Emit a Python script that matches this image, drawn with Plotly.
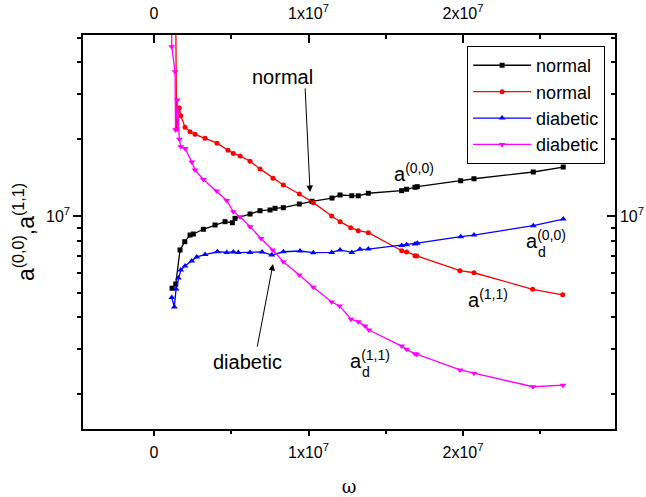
import math
import plotly.graph_objects as go

# omega values (rad/s) and coefficients for each curve
omega_n00 = [1.165e6, 1.404e6, 1.683e6, 1.987e6, 2.330e6, 2.543e6, 3.191e6, 3.948e6, 4.595e6, 5.068e6,
             5.242e6, 6.213e6, 6.860e6, 7.508e6, 7.831e6, 8.368e6, 9.404e6, 1.0226e7, 1.152e7, 1.204e7,
             1.280e7, 1.322e7, 1.387e7, 1.603e7, 1.635e7, 1.689e7, 1.704e7, 1.985e7, 2.071e7, 2.455e7, 2.649e7]
a_n00 = [5.21e6, 5.41e6, 7.36e6, 7.93e6, 8.42e6, 8.50e6, 8.87e6, 9.22e6, 9.50e6, 9.41e6,
         9.79e6, 1.018e7, 1.049e7, 1.056e7, 1.072e7, 1.078e7, 1.114e7, 1.142e7, 1.176e7, 1.209e7,
         1.201e7, 1.200e7, 1.228e7, 1.257e7, 1.273e7, 1.296e7, 1.303e7, 1.375e7, 1.400e7, 1.488e7, 1.556e7]

omega_n11 = [1.391e6, 1.456e6, 1.637e6, 1.728e6, 2.006e6, 2.330e6, 2.654e6, 3.301e6, 4.077e6, 4.789e6,
             5.132e6, 5.566e6, 6.213e6, 6.860e6, 7.702e6, 8.368e6, 9.404e6, 1.031e7, 1.150e7, 1.204e7,
             1.273e7, 1.322e7, 1.387e7, 1.603e7, 1.635e7, 1.689e7, 1.700e7, 1.980e7, 2.071e7, 2.451e7, 2.645e7]
a_n11 = [8.0e7, 2.19e7, 2.65e7, 2.47e7, 2.23e7, 2.14e7, 2.09e7, 2.02e7, 1.93e7, 1.81e7,
         1.76e7, 1.72e7, 1.64e7, 1.53e7, 1.405e7, 1.323e7, 1.220e7, 1.128e7, 1.000e7, 9.50e6,
         9.00e6, 8.76e6, 8.60e6, 7.31e6, 7.23e6, 6.99e6, 6.97e6, 6.10e6, 5.99e6, 5.16e6, 4.91e6]

omega_d00 = [1.146e6, 1.314e6, 1.424e6, 1.573e6, 1.728e6, 2.006e6, 2.440e6, 2.764e6, 3.301e6, 4.097e6,
             4.705e6, 5.132e6, 5.456e6, 6.213e6, 6.990e6, 7.618e6, 8.368e6, 9.449e6, 1.031e7, 1.150e7,
             1.204e7, 1.280e7, 1.333e7, 1.387e7, 1.603e7, 1.635e7, 1.689e7, 1.704e7, 1.985e7, 2.071e7,
             2.455e7, 2.649e7]
a_d00 = [4.79e6, 4.40e6, 5.17e6, 5.71e6, 6.14e6, 6.37e6, 6.66e6, 6.91e6, 7.06e6, 7.24e6,
         7.20e6, 7.23e6, 7.19e6, 7.20e6, 7.23e6, 7.03e6, 7.24e6, 7.29e6, 7.18e6, 7.20e6,
         7.36e6, 7.20e6, 7.40e6, 7.42e6, 7.66e6, 7.72e6, 7.77e6, 7.82e6, 8.30e6, 8.42e6,
         9.16e6, 9.73e6]

omega_d11 = [1.12e6, 1.146e6, 1.359e6, 1.391e6, 1.508e6, 1.637e6, 1.728e6, 2.006e6, 2.440e6, 2.654e6,
             3.191e6, 4.058e6, 4.705e6, 5.132e6, 5.566e6, 6.213e6, 6.925e6, 7.682e6, 8.368e6, 9.404e6,
             1.031e7, 1.150e7, 1.201e7, 1.275e7, 1.322e7, 1.366e7, 1.391e7, 1.603e7, 1.634e7, 1.689e7,
             1.700e7, 1.980e7, 2.071e7, 2.453e7, 2.647e7]
a_d11 = [9.0e7, 4.61e7, 3.68e7, 2.18e7, 2.85e7, 2.00e7, 1.87e7, 1.84e7, 1.63e7, 1.515e7,
         1.39e7, 1.253e7, 1.150e7, 1.040e7, 9.94e6, 9.08e6, 8.16e6, 7.36e6, 6.62e6, 5.87e6,
         5.25e6, 4.60e6, 4.44e6, 3.94e6, 3.85e6, 3.70e6, 3.57e6, 3.09e6, 3.00e6, 2.88e6,
         2.87e6, 2.49e6, 2.42e6, 2.14e6, 2.17e6]

series = [
    ("normal", omega_n00, a_n00, "#000000", "square", 5),
    ("normal", omega_n11, a_n11, "#ff0000", "circle", 5),
    ("diabetic", omega_d00, a_d00, "#0000ff", "triangle-up", 6),
    ("diabetic", omega_d11, a_d11, "#ff00ff", "triangle-down", 6),
]

x_ticks = [0, 1e7, 2e7]
x_ticktext = ["0", "1x10<sup>7</sup>", "2x10<sup>7</sup>"]
x_minor = [5e6, 1.5e7, 2.5e7]
y_ticks = [1e7]
y_ticktext = ["10<sup>7</sup>"]
y_minor = [2e6, 3e6, 4e6, 5e6, 6e6, 7e6, 8e6, 9e6, 2e7, 3e7, 4e7, 5e7]

x_range = [-4.6e6, 2.984e7]
y_range = [6.1647, 7.7098]

FONT = "Liberation Sans, Arial, sans-serif"

fig = go.Figure()
for name, xs, ys, color, symbol, size in series:
    fig.add_trace(go.Scatter(
        x=xs, y=ys, name=name, mode="lines+markers",
        line=dict(color=color, width=1.3),
        marker=dict(symbol=symbol, size=size, color=color),
    ))

# transparent copy on the top/right axes so those axes get drawn
fig.add_trace(go.Scatter(x=omega_n00, y=a_n00, xaxis="x2", yaxis="y2", mode="lines",
                         line=dict(color="rgba(0,0,0,0)"), showlegend=False, hoverinfo="skip"))

axis_common = dict(showline=True, linecolor="black", linewidth=1.5, showgrid=False,
                   zeroline=False, tickcolor="black", tickwidth=1.5, automargin=False,
                   tickfont=dict(family=FONT, size=16, color="black"))

fig.update_layout(
    width=646, height=497,
    margin=dict(l=83, r=31, t=35, b=68, autoexpand=False),
    paper_bgcolor="white", plot_bgcolor="white",
    font=dict(family=FONT, size=16, color="black"),
    showlegend=True,
    legend=dict(x=0.722, y=0.972, xanchor="left", yanchor="top",
                bordercolor="black", borderwidth=1, bgcolor="white",
                font=dict(family=FONT, size=18), tracegroupgap=0, itemwidth=58),
    xaxis=dict(range=x_range, tickmode="array", tickvals=x_ticks, ticktext=x_ticktext,
               ticks="outside", ticklen=5, side="bottom", ticklabelstandoff=3,
               minor=dict(tickmode="array", tickvals=x_minor, ticks="outside", ticklen=3,
                          tickcolor="black", tickwidth=1.5),
               title=dict(text="ω", font=dict(family="DejaVu Serif, serif", size=18), standoff=26),
               **axis_common),
    xaxis2=dict(range=x_range, overlaying="x", side="top", anchor="y", tickmode="array",
                tickvals=x_ticks, ticktext=x_ticktext, ticks="inside", ticklen=8, ticklabelstandoff=8,
                minor=dict(tickmode="array", tickvals=x_minor, ticks="inside", ticklen=4,
                           tickcolor="black", tickwidth=1.5),
                **axis_common),
    yaxis=dict(type="log", range=y_range, tickmode="array", tickvals=y_ticks, ticktext=y_ticktext,
               ticks="outside", ticklen=8,
               minor=dict(tickmode="array", tickvals=y_minor, ticks="outside", ticklen=4,
                          tickcolor="black", tickwidth=1.5),
               title=dict(text="a<sup>(0,0)</sup>,a<sup>(1,1)</sup>", font=dict(family=FONT, size=23),
                          standoff=5),
               **axis_common),
    yaxis2=dict(type="log", range=y_range, overlaying="y", side="right", anchor="x",
                tickmode="array", tickvals=y_ticks, ticktext=y_ticktext, ticks="inside", ticklen=8,
                minor=dict(tickmode="array", tickvals=y_minor, ticks="inside", ticklen=4,
                           tickcolor="black", tickwidth=1.5),
                **axis_common),
)

# arrows pointing at the crossing points (annotation y on a log axis is log10),
# with the caption placed separately beside the arrow tail
arrow_notes = [
    dict(text="normal", x=1.010e7, y=1.242e7, ax=-5, ay=-105, tx=282, ty=77),
    dict(text="diabetic", x=7.70e6, y=6.48e6, ax=-16, ay=84, tx=247, ty=362),
]


def px_to_paper(px, py):
    return (px - 83) / 532, (429 - py) / 394


for a in arrow_notes:
    fig.add_annotation(x=a["x"], y=math.log10(a["y"]), xref="x", yref="y",
                       text="", showarrow=True, ax=a["ax"], ay=a["ay"],
                       arrowhead=2, arrowsize=1.3, arrowwidth=1, arrowcolor="black")
    tx, ty = px_to_paper(a["tx"], a["ty"])
    fig.add_annotation(x=tx, y=ty, xref="paper", yref="paper", xanchor="center", yanchor="middle",
                       text=a["text"], showarrow=False,
                       font=dict(family=FONT, size=20, color="black"))

# curve labels: (main text, subscript, left px, middle px)
curve_labels = [
    ("a<sup>(0,0)</sup>", None, 392, 172),
    ("a<sup>(0,0)</sup>", "d", 524, 239),
    ("a<sup>(1,1)</sup>", None, 466, 298),
    ("a<sup>(1,1)</sup>", "d", 348, 359),
]
for main, sub, lx, ly in curve_labels:
    xp, yp = px_to_paper(lx, ly)
    fig.add_annotation(x=xp, y=yp, xref="paper", yref="paper", xanchor="left", yanchor="middle",
                       text=main, showarrow=False, font=dict(family=FONT, size=20, color="black"))
    if sub:
        sx, sy = px_to_paper(lx + 12, ly + 13)
        fig.add_annotation(x=sx, y=sy, xref="paper", yref="paper", xanchor="left", yanchor="middle",
                           text=sub, showarrow=False, font=dict(family=FONT, size=14, color="black"))

fig.write_html("out.html")
